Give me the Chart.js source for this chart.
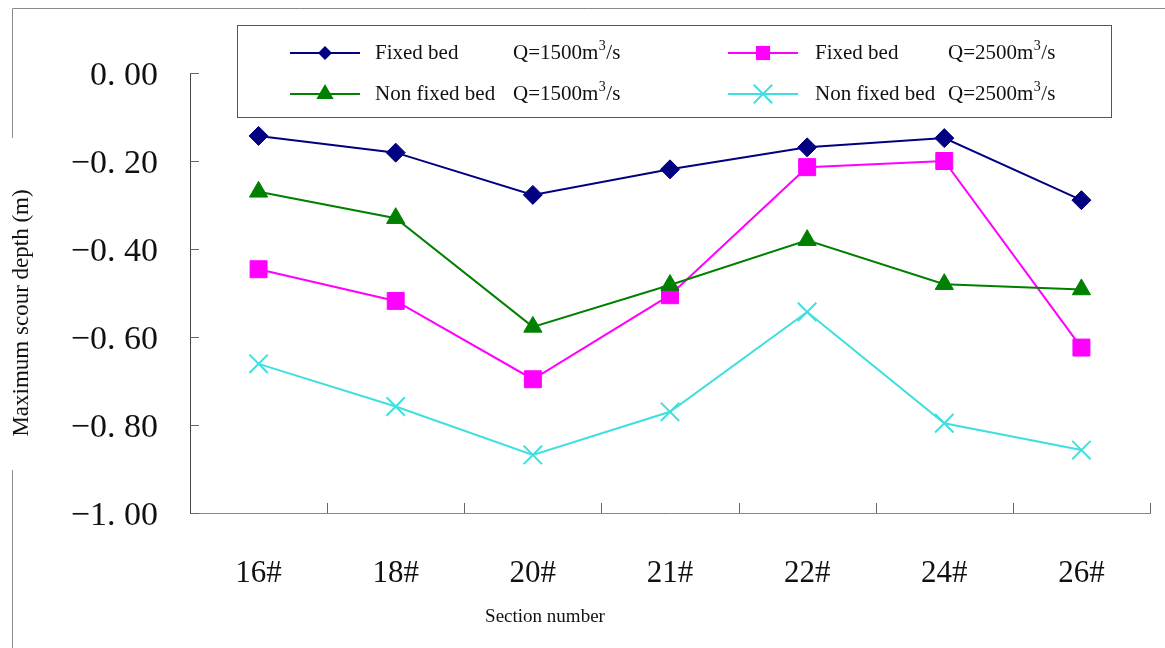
<!DOCTYPE html>
<html>
<head>
<meta charset="utf-8">
<title>Maximum scour depth by section</title>
<script src="https://cdn.jsdelivr.net/npm/chart.js@4.4.1/dist/chart.umd.min.js"></script>
<style>
  html, body { margin: 0; padding: 0; background: #fff; }
  #wrap { width: 1165px; height: 648px; }
</style>
</head>
<body>
<div id="wrap"><canvas id="myChart" width="1165" height="648"></canvas></div>
<script>
// ---- data ----
const categories = ['16#', '18#', '20#', '21#', '22#', '24#', '26#'];
const fixedQ1500 = [-0.143, -0.181, -0.277, -0.219, -0.169, -0.148, -0.289];
const fixedQ2500 = [-0.446, -0.518, -0.696, -0.505, -0.214, -0.200, -0.624];
const nonFixedQ1500 = [-0.270, -0.330, -0.577, -0.482, -0.380, -0.480, -0.492];
const nonFixedQ2500 = [-0.661, -0.758, -0.868, -0.770, -0.543, -0.796, -0.857];
const yTickValues = [0, -0.2, -0.4, -0.6, -0.8, -1.0];
const bedLabels = ['Fixed bed', 'Fixed bed', 'Non fixed bed', 'Non fixed bed'];
const flowLabels = ['Q=1500', 'Q=2500', 'Q=1500', 'Q=2500'];

const SERIF = '"Liberation Serif", "Times New Roman", serif';

function fmtTick(v) {
  const s = Math.abs(v).toFixed(2).replace('.', '. ');
  return (v < 0 ? '\u2212' : '') + s;
}

// small marker painter for the legend
function drawMarker(ctx, style, color, r, x, y) {
  ctx.save();
  ctx.fillStyle = color;
  ctx.strokeStyle = color;
  ctx.beginPath();
  if (style === 'rectRot') {
    ctx.moveTo(x, y - r); ctx.lineTo(x + r, y); ctx.lineTo(x, y + r); ctx.lineTo(x - r, y);
    ctx.closePath(); ctx.fill();
  } else if (style === 'rect') {
    const s = r * Math.SQRT1_2;
    ctx.rect(x - s, y - s, 2 * s, 2 * s); ctx.fill();
  } else if (style === 'triangle') {
    ctx.moveTo(x, y - r);
    ctx.lineTo(x + r * 0.866, y + r * 0.5);
    ctx.lineTo(x - r * 0.866, y + r * 0.5);
    ctx.closePath(); ctx.fill();
  } else if (style === 'crossRot') {
    const o = r * Math.SQRT1_2;
    ctx.lineWidth = 2;
    ctx.moveTo(x - o, y - o); ctx.lineTo(x + o, y + o);
    ctx.moveTo(x - o, y + o); ctx.lineTo(x + o, y - o);
    ctx.stroke();
  }
  ctx.restore();
}

// "Q=1500m" + superscript "3" + "/s"
function drawFlow(ctx, text, x, y) {
  ctx.font = '21px ' + SERIF;
  const head = text + 'm';
  ctx.fillText(head, x, y);
  let w = ctx.measureText(head).width;
  ctx.font = '14px ' + SERIF;
  ctx.fillText('3', x + w + 0.5, y - 7);
  w += ctx.measureText('3').width + 1;
  ctx.font = '21px ' + SERIF;
  ctx.fillText('/s', x + w, y);
}

const decorPlugin = {
  id: 'decor',
  beforeDraw(chart) {
    const ctx = chart.ctx;
    ctx.save();
    ctx.fillStyle = '#fff';
    ctx.fillRect(0, 0, chart.width, chart.height);
    // outer frame (top edge and broken left edge)
    ctx.strokeStyle = '#8a8a8a';
    ctx.lineWidth = 1;
    ctx.beginPath();
    ctx.moveTo(12.5, 8.5); ctx.lineTo(chart.width, 8.5);
    ctx.moveTo(12.5, 8.5); ctx.lineTo(12.5, 138);
    ctx.moveTo(12.5, 470); ctx.lineTo(12.5, chart.height);
    ctx.stroke();
    ctx.restore();
  },
  afterDraw(chart) {
    const ctx = chart.ctx;
    const area = chart.chartArea;
    const xs = chart.scales.x;
    const ys = chart.scales.y;
    ctx.save();

    // inward tick marks on y axis
    ctx.strokeStyle = '#666';
    ctx.lineWidth = 1;
    ctx.beginPath();
    yTickValues.forEach(v => {
      const y = Math.round(ys.getPixelForValue(v)) + 0.5;
      ctx.moveTo(area.left, y); ctx.lineTo(area.left + 9, y);
    });
    // upward tick marks on x axis, between categories
    const step = xs.getPixelForValue(1) - xs.getPixelForValue(0);
    categories.forEach((c, i) => {
      const x = Math.round(xs.getPixelForValue(i) + step / 2) + 0.5;
      ctx.moveTo(x, area.bottom); ctx.lineTo(x, area.bottom - 10);
    });
    ctx.stroke();

    // axis titles
    ctx.fillStyle = '#111';
    ctx.font = '19px ' + SERIF;
    ctx.textAlign = 'center';
    ctx.textBaseline = 'middle';
    ctx.fillText('Section number', 545, 617);
    ctx.save();
    ctx.translate(22, 313);
    ctx.rotate(-Math.PI / 2);
    ctx.font = '23px ' + SERIF;
    ctx.fillText('Maximum scour depth (m)', 0, 0);
    ctx.restore();

    // legend box
    ctx.fillStyle = '#fff';
    ctx.fillRect(237, 25, 874, 92);
    ctx.strokeStyle = '#555';
    ctx.strokeRect(237.5, 25.5, 874, 92);

    const colLine = [290, 728];
    const colText = [375, 815];
    const colFlow = [513, 948];
    const rowY = [53, 94];
    const legendRadius = { rectRot: 7, rect: 10, triangle: 10, crossRot: 13 };
    chart.data.datasets.forEach((ds, i) => {
      const col = i % 2, row = Math.floor(i / 2);
      const y = rowY[row];
      ctx.strokeStyle = ds.borderColor;
      ctx.lineWidth = 2;
      ctx.beginPath();
      ctx.moveTo(colLine[col], y); ctx.lineTo(colLine[col] + 70, y);
      ctx.stroke();
      drawMarker(ctx, ds.pointStyle, ds.borderColor, legendRadius[ds.pointStyle], colLine[col] + 35, y);
      ctx.fillStyle = '#111';
      ctx.font = '21px ' + SERIF;
      ctx.textAlign = 'left';
      ctx.textBaseline = 'middle';
      ctx.fillText(bedLabels[i], colText[col], y);
      drawFlow(ctx, flowLabels[i], colFlow[col], y);
    });
    ctx.restore();
  }
};

function series(idx, data, color, style, radius, order) {
  return {
    label: bedLabels[idx] + ' ' + flowLabels[idx] + 'm\u00B3/s',
    data: data,
    borderColor: color,
    backgroundColor: color,
    borderWidth: 2,
    pointStyle: style,
    pointRadius: radius,
    pointHoverRadius: radius,
    pointBorderWidth: style === 'crossRot' ? 2 : 1,
    pointBackgroundColor: color,
    pointBorderColor: color,
    tension: 0,
    order: order
  };
}

new Chart(document.getElementById('myChart'), {
  type: 'line',
  data: {
    labels: categories,
    datasets: [
      series(0, fixedQ1500, '#000080', 'rectRot', 9.5, 0),
      series(1, fixedQ2500, '#ff00ff', 'rect', 12, 2),
      series(2, nonFixedQ1500, '#008000', 'triangle', 10.5, 1),
      series(3, nonFixedQ2500, '#3fdfdf', 'crossRot', 13, 3)
    ]
  },
  options: {
    responsive: false,
    animation: false,
    layout: { padding: { top: 73, right: 15, left: 0, bottom: 0 } },
    plugins: {
      legend: { display: false },
      tooltip: { enabled: false }
    },
    scales: {
      x: {
        offset: true,
        grid: { display: false, drawTicks: false },
        border: { display: true, color: '#888', width: 1 },
        ticks: {
          color: '#111',
          font: { family: SERIF, size: 31 },
          padding: 42,
          maxRotation: 0,
          autoSkip: false
        },
        afterFit(scale) { scale.height = 135; }
      },
      y: {
        min: -1,
        max: 0,
        afterBuildTicks(scale) { scale.ticks = yTickValues.map(v => ({ value: v })); },
        grid: { display: false, drawTicks: false },
        border: { display: true, color: '#444', width: 1 },
        ticks: {
          color: '#111',
          font: { family: SERIF, size: 34 },
          padding: 32,
          labelOffset: 3,
          callback: v => fmtTick(v)
        },
        afterFit(scale) { scale.width = 190; }
      }
    }
  },
  plugins: [decorPlugin]
});
</script>
</body>
</html>
